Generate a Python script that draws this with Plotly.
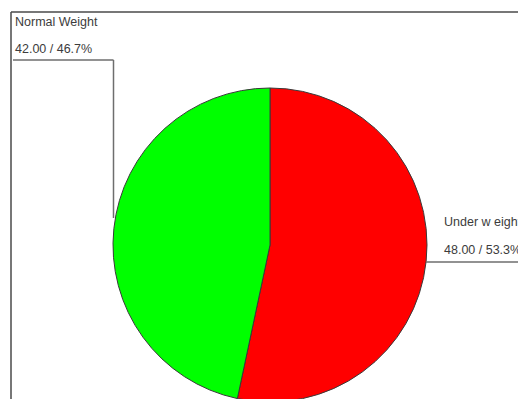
import plotly.graph_objects as go

# Weight category counts
categories = ["Normal Weight", "Under w eight"]
counts = [42.00, 48.00]
slice_colors = ["#00ff00", "#ff0000"]

total = sum(counts)
value_texts = [f"{v:.2f} / {100 * v / total:.1f}%" for v in counts]

# Canvas geometry (pixels); the page is taller than the viewport so the
# lower rim of the pie runs off the bottom edge.
W, H = 518, 420
M_L, M_R, M_T, M_B = 113, 91, 88, 18
PW, PH = W - M_L - M_R, H - M_T - M_B


def px(x):
    return (x - M_L) / PW


def py(y):
    return 1 - (y - M_T) / PH


# Slices are laid clockwise from 12 o'clock in reverse order, so the
# first category fills the left half and ends at the top.
fig = go.Figure(
    go.Pie(
        labels=categories[::-1],
        values=counts[::-1],
        sort=False,
        direction="clockwise",
        rotation=0,
        marker=dict(colors=slice_colors[::-1], line=dict(color="#3a3a3a", width=1)),
        textinfo="none",
        hoverinfo="label+value+percent",
        showlegend=False,
    )
)

line_grey = "#6e6e6e"
shapes = [
    # frame
    dict(type="line", x0=px(11), x1=px(11), y0=py(12), y1=py(430),
         line=dict(color="#4a4a4a", width=1.5)),
    dict(type="line", x0=px(11), x1=px(530), y0=py(12), y1=py(12),
         line=dict(color="#4a4a4a", width=1.5)),
    # leader for the first category
    dict(type="line", x0=px(13), x1=px(113.5), y0=py(60), y1=py(60),
         line=dict(color=line_grey, width=1.5)),
    dict(type="line", x0=px(113.5), x1=px(113.5), y0=py(60), y1=py(218),
         line=dict(color=line_grey, width=1.5)),
    # leader for the second category
    dict(type="line", x0=px(426), x1=px(530), y0=py(262), y1=py(262),
         line=dict(color=line_grey, width=1.5)),
]
for s in shapes:
    s.update(xref="paper", yref="paper", layer="above")

label_font = dict(family="Liberation Sans, Arial, sans-serif", size=12.5, color="#3c3c3c")
label_pos = [(14, 22, 49), (443, 222, 250)]
annotations = []
for (x, y_name, y_val), name, vt in zip(label_pos, categories, value_texts):
    for y, txt in ((y_name, name), (y_val, vt)):
        annotations.append(dict(
            x=px(x), y=py(y), xref="paper", yref="paper",
            xanchor="left", yanchor="middle", text=txt, showarrow=False,
            font=label_font, borderpad=0,
        ))

fig.update_layout(
    width=W, height=H,
    margin=dict(l=M_L, r=M_R, t=M_T, b=M_B, autoexpand=False),
    paper_bgcolor="white", plot_bgcolor="white",
    shapes=shapes, annotations=annotations,
)

fig.write_html(
    "out.html",
    config={"displayModeBar": False},
    post_script="document.documentElement.style.overflow='hidden';document.body.style.overflow='hidden';",
)
